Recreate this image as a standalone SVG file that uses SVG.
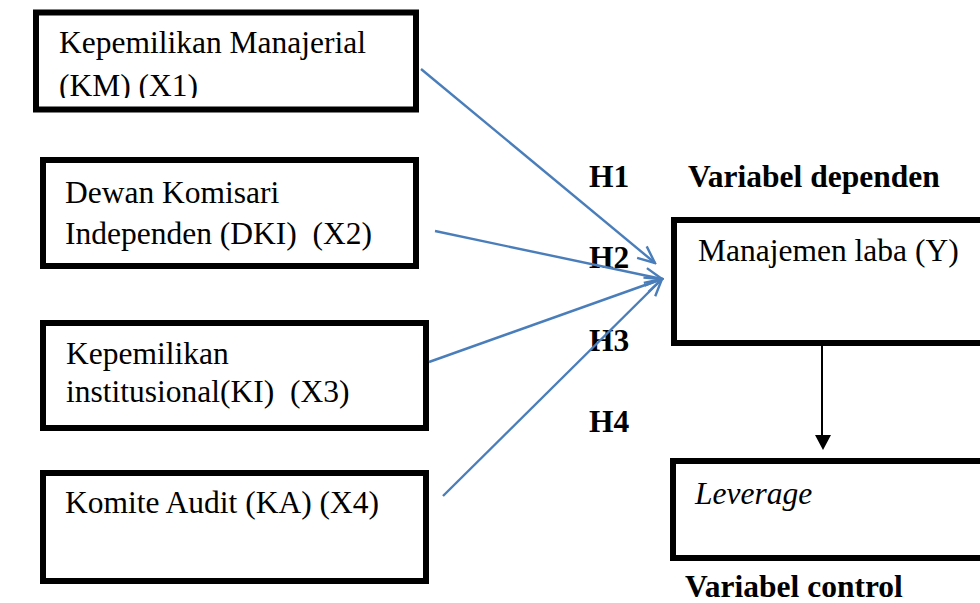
<svg xmlns="http://www.w3.org/2000/svg" width="980" height="603" viewBox="0 0 980 603">
<style>
.box{fill:#fff;stroke:#000;stroke-width:6}
.t{font-family:"Liberation Serif","Times New Roman",serif;font-size:31.5px;fill:#000}
.b{font-weight:bold}
.i{font-style:italic}
.con{stroke:#4a7ebb;stroke-width:2.4;fill:none}
</style>
<defs>
<marker id="open" markerUnits="userSpaceOnUse" markerWidth="20" markerHeight="18" viewBox="0 0 20 18" refX="18" refY="9" orient="auto">
<path d="M1,1.5 L18,9 L1,16.5" fill="none" stroke="#4a7ebb" stroke-width="2.4"/>
</marker>
<clipPath id="c1"><rect x="36" y="12" width="380" height="86"/></clipPath>
</defs>
<rect width="980" height="603" fill="#fff"/>
<g id="x1">
<rect class="box" x="36" y="12.5" width="380" height="97"/>
<g clip-path="url(#c1)">
<text class="t" x="59" y="53">Kepemilikan Manajerial</text>
<text class="t" x="59" y="96">(KM) (X1)</text>
</g>
</g>
<g id="x2">
<rect class="box" x="43" y="160" width="373" height="106"/>
<text class="t" x="65" y="203">Dewan Komisari</text>
<text class="t" x="65" y="244" xml:space="preserve">Independen (DKI)  (X2)</text>
</g>
<g id="x3">
<rect class="box" x="43" y="323" width="383" height="105"/>
<text class="t" x="66" y="364">Kepemilikan</text>
<text class="t" x="66" y="402" xml:space="preserve">institusional(KI)  (X3)</text>
</g>
<g id="x4">
<rect class="box" x="43" y="473" width="383" height="108"/>
<text class="t" x="65" y="513">Komite Audit (KA) (X4)</text>
</g>
<g id="y">
<rect class="box" x="674" y="220" width="330" height="123"/>
<text class="t" x="698" y="261">Manajemen laba (Y)</text>
</g>
<g id="control">
<rect class="box" x="673" y="461" width="330" height="97"/>
<text class="t i" x="695" y="504">Leverage</text>
</g>
<g id="labels">
<text class="t b" x="688" y="187">Variabel dependen</text>
<text class="t b" x="685" y="597">Variabel control</text>
<text class="t b" x="589" y="187">H1</text>
<text class="t b" x="589" y="268">H2</text>
<text class="t b" x="589" y="351">H3</text>
<text class="t b" x="589" y="432">H4</text>
</g>
<g id="connectors">
<line class="con" x1="421" y1="69" x2="655" y2="263" marker-end="url(#open)"/>
<line class="con" x1="435" y1="231" x2="662" y2="279" marker-end="url(#open)"/>
<line class="con" x1="429" y1="362" x2="662" y2="279" marker-end="url(#open)"/>
<line class="con" x1="443" y1="496" x2="662" y2="279" marker-end="url(#open)"/>
<line x1="822" y1="346" x2="822" y2="437" stroke="#000" stroke-width="2"/>
<path d="M815,435 L831,435 L823,450 Z" fill="#000"/>
</g>
</svg>
